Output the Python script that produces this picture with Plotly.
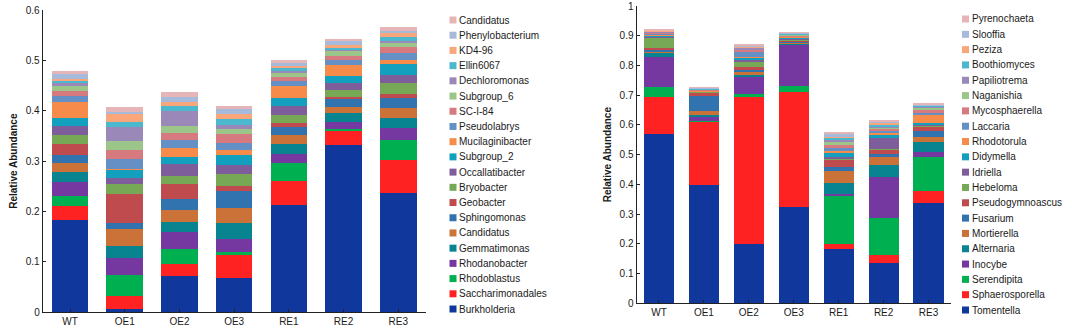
import plotly.graph_objects as go

samples = ["WT", "OE1", "OE2", "OE3", "RE1", "RE2", "RE3"]

bac_taxa = ["Burkholderia", "Saccharimonadales", "Rhodoblastus", "Rhodanobacter", "Gemmatimonas",
            "Candidatus", "Sphingomonas", "Geobacter", "Bryobacter", "Occallatibacter",
            "Subgroup_2", "Mucilaginibacter", "Pseudolabrys", "SC-I-84", "Subgroup_6",
            "Dechloromonas", "Ellin6067", "KD4-96", "Phenylobacterium", "Candidatus"]

fun_taxa = ["Tomentella", "Sphaerosporella", "Serendipita", "Inocybe", "Alternaria",
            "Mortierella", "Fusarium", "Pseudogymnoascus", "Hebeloma", "Idriella",
            "Didymella", "Rhodotorula", "Laccaria", "Mycosphaerella", "Naganishia",
            "Papiliotrema", "Boothiomyces", "Peziza", "Slooffia", "Pyrenochaeta"]

# bacterial relative abundance per sample (order follows bac_taxa)
bac_WT = [0.183, 0.028, 0.020, 0.028, 0.019, 0.018, 0.016, 0.023, 0.017, 0.018, 0.015, 0.033, 0.012, 0.009, 0.010, 0.006, 0.005, 0.004, 0.009, 0.006]
bac_OE1 = [0.007, 0.026, 0.042, 0.033, 0.024, 0.033, 0.012, 0.058, 0.020, 0.012, 0.016, 0.002, 0.019, 0.019, 0.017, 0.027, 0.010, 0.017, 0.003, 0.010]
bac_OE2 = [0.073, 0.022, 0.031, 0.034, 0.020, 0.023, 0.021, 0.031, 0.016, 0.023, 0.015, 0.017, 0.016, 0.014, 0.014, 0.030, 0.010, 0.008, 0.010, 0.009]
bac_OE3 = [0.069, 0.044, 0.007, 0.025, 0.032, 0.031, 0.033, 0.010, 0.023, 0.019, 0.019, 0.011, 0.014, 0.016, 0.011, 0.008, 0.012, 0.009, 0.010, 0.006]
bac_RE1 = [0.212, 0.049, 0.035, 0.018, 0.021, 0.016, 0.017, 0.007, 0.017, 0.018, 0.016, 0.023, 0.010, 0.008, 0.009, 0.002, 0.006, 0.005, 0.006, 0.006]
bac_RE2 = [0.332, 0.028, 0.003, 0.015, 0.018, 0.011, 0.018, 0.002, 0.014, 0.014, 0.014, 0.022, 0.010, 0.008, 0.010, 0.003, 0.003, 0.006, 0.008, 0.003]
bac_RE3 = [0.237, 0.065, 0.039, 0.025, 0.020, 0.020, 0.019, 0.008, 0.022, 0.016, 0.021, 0.009, 0.013, 0.013, 0.009, 0.003, 0.007, 0.008, 0.005, 0.007]

# fungal relative abundance per sample (order follows fun_taxa)
fun_WT = [0.569, 0.126, 0.032, 0.103, 0.011, 0.007, 0.004, 0.006, 0.037, 0.003, 0.004, 0.003, 0.003, 0.002, 0.002, 0.001, 0.002, 0.002, 0.002, 0.002]
fun_OE1 = [0.397, 0.214, 0.001, 0.016, 0.004, 0.014, 0.050, 0.014, 0.001, 0.001, 0.002, 0.001, 0.001, 0.002, 0.001, 0.001, 0.002, 0.002, 0.001, 0.002]
fun_OE2 = [0.198, 0.495, 0.011, 0.056, 0.008, 0.009, 0.008, 0.011, 0.016, 0.006, 0.009, 0.002, 0.017, 0.006, 0.003, 0.004, 0.002, 0.003, 0.002, 0.003]
fun_OE3 = [0.324, 0.388, 0.020, 0.138, 0.004, 0.004, 0.004, 0.003, 0.003, 0.003, 0.003, 0.003, 0.002, 0.002, 0.002, 0.002, 0.002, 0.001, 0.002, 0.002]
fun_RE1 = [0.182, 0.017, 0.162, 0.007, 0.036, 0.040, 0.013, 0.027, 0.004, 0.005, 0.013, 0.005, 0.010, 0.011, 0.011, 0.008, 0.005, 0.006, 0.006, 0.007]
fun_RE2 = [0.137, 0.025, 0.126, 0.136, 0.040, 0.029, 0.008, 0.017, 0.002, 0.037, 0.009, 0.008, 0.008, 0.005, 0.004, 0.005, 0.003, 0.010, 0.004, 0.004]
fun_RE3 = [0.338, 0.041, 0.114, 0.015, 0.036, 0.016, 0.019, 0.017, 0.002, 0.002, 0.005, 0.028, 0.008, 0.009, 0.007, 0.004, 0.003, 0.002, 0.004, 0.005]

palette = ["#10379B", "#FF2222", "#00B050", "#7438A0", "#078490", "#CB7238", "#3073AE", "#BF4B4F",
           "#76A855", "#7E5E9A", "#12A0BE", "#F68B4A", "#6590C5", "#D77A80", "#9CC58A",
           "#9A88B8", "#4BB8CE", "#F9A67A", "#A6BBDC", "#E6B5B8"]

y_ticks_left = [0, 0.1, 0.2, 0.3, 0.4, 0.5, 0.6]
y_ticks_right = [0, 0.1, 0.2, 0.3, 0.4, 0.5, 0.6, 0.7, 0.8, 0.9, 1]

bac_data = [bac_WT, bac_OE1, bac_OE2, bac_OE3, bac_RE1, bac_RE2, bac_RE3]
fun_data = [fun_WT, fun_OE1, fun_OE2, fun_OE3, fun_RE1, fun_RE2, fun_RE3]

FONT = "Liberation Sans, Arial, sans-serif"
TXT = "#1a1a1a"
W, H = 1072, 331

fig = go.Figure()

for i, name in enumerate(bac_taxa):
    fig.add_trace(go.Bar(x=samples, y=[s[i] for s in bac_data], name=name,
                         marker=dict(color=palette[i], line=dict(width=0)),
                         xaxis="x", yaxis="y", showlegend=False))
for i, name in enumerate(fun_taxa):
    fig.add_trace(go.Bar(x=samples, y=[s[i] for s in fun_data], name=name,
                         marker=dict(color=palette[i], line=dict(width=0)),
                         xaxis="x2", yaxis="y2", showlegend=False))

# custom legends: square swatches on hidden axes, labels as annotations on the same axes
annotations = []
for taxa, xa, ya in [(bac_taxa, "x3", "y3"), (fun_taxa, "x4", "y4")]:
    n = len(taxa)
    fig.add_trace(go.Scatter(x=[0] * n, y=list(range(n)), mode="markers",
                             marker=dict(symbol="square", size=7, color=palette[:n], line=dict(width=0)),
                             xaxis=xa, yaxis=ya, showlegend=False, cliponaxis=False,
                             hoverinfo="skip"))
    for i, name in enumerate(taxa):
        annotations.append(dict(x=0, y=i, xref=xa, yref=ya, text=name, showarrow=False,
                                xanchor="left", yanchor="middle", xshift=4,
                                font=dict(size=10, color=TXT, family=FONT)))

axis_common = dict(showline=True, linecolor="#222", linewidth=1, showgrid=False, zeroline=False,
                   ticks="inside", ticklen=3, tickcolor="#222", automargin=False,
                   tickfont=dict(size=10, color=TXT, family=FONT))

fig.update_layout(
    width=W, height=H, margin=dict(l=0, r=0, t=0, b=0),
    paper_bgcolor="white", plot_bgcolor="white",
    barmode="stack", bargap=0.33,
    font=dict(family=FONT, color=TXT),
    annotations=annotations,
    xaxis=dict(domain=[42.7 / W, 425.6 / W], anchor="y", type="category", **axis_common),
    yaxis=dict(domain=[(H - 312.3) / H, (H - 10) / H], anchor="x", range=[0, 0.6],
               tickvals=y_ticks_left,
               title=dict(text="<b>Relative Abundance</b>", font=dict(size=10, family=FONT), standoff=6),
               **axis_common),
    xaxis2=dict(domain=[636.5 / W, 951 / W], anchor="y2", type="category", **axis_common),
    yaxis2=dict(domain=[(H - 303.3) / H, (H - 6) / H], anchor="x2", range=[0, 1],
                tickvals=y_ticks_right,
                title=dict(text="<b>Relative Abundance</b>", font=dict(size=10, family=FONT), standoff=6),
                **axis_common),
    xaxis3=dict(domain=[453 / W, 560 / W], range=[0, 1], visible=False, anchor="y3", automargin=False),
    yaxis3=dict(domain=[(H - 309) / H, (H - 20) / H], range=[0, 19], visible=False, anchor="x3", automargin=False),
    xaxis4=dict(domain=[965.5 / W, 1070 / W], range=[0, 1], visible=False, anchor="y4", automargin=False),
    yaxis4=dict(domain=[(H - 310) / H, (H - 19) / H], range=[0, 19], visible=False, anchor="x4", automargin=False),
)

fig.write_html("out.html", config={"displayModeBar": False},
               post_script="document.body.style.margin='0';document.body.style.padding='0';"
                           "document.body.style.overflow='hidden';")
